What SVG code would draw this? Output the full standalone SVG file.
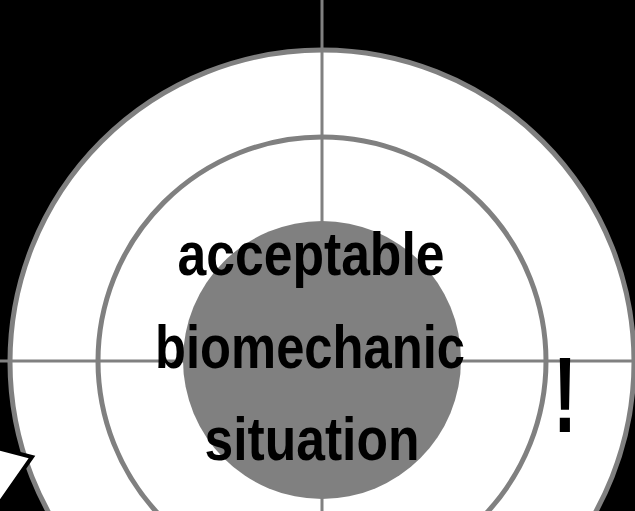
<svg xmlns="http://www.w3.org/2000/svg" width="635" height="511" viewBox="0 0 635 511">
<style>
.ring{fill:none;stroke:#808080;stroke-width:5}
.axis{stroke:#808080;stroke-width:3}
.lbl{font-family:"Liberation Sans",Arial,sans-serif;font-weight:bold;font-size:61px;fill:#000;text-anchor:middle}
</style>
<rect x="0" y="0" width="635" height="511" fill="#000"/>
<g id="outer-ring">
<circle cx="322" cy="362" r="312" fill="#fff" stroke="#808080" stroke-width="5"/>
</g>
<g id="inner-ring">
<circle class="ring" cx="322" cy="361" r="224"/>
</g>
<g id="connectors">
<line class="axis" x1="322" y1="0" x2="322" y2="511"/>
<line class="axis" x1="0" y1="361" x2="635" y2="361"/>
</g>
<g id="core">
<circle cx="322" cy="360" r="139" fill="#808080"/>
<text class="lbl" x="311" y="275" textLength="267" lengthAdjust="spacingAndGlyphs">acceptable</text>
<text class="lbl" x="310" y="368" textLength="310" lengthAdjust="spacingAndGlyphs">biomechanic</text>
<text class="lbl" x="312" y="460" textLength="215" lengthAdjust="spacingAndGlyphs">situation</text>
</g>
<g id="warning">
<text x="565" y="432" font-family="'Liberation Sans',Arial,sans-serif" font-weight="bold" font-size="107" text-anchor="middle" fill="#000" textLength="24" lengthAdjust="spacingAndGlyphs">!</text>
</g>
<g id="arrow">
<polygon points="-30,441 32,457 -10,517" fill="#fff" stroke="#000" stroke-width="4" stroke-linejoin="miter"/>
</g>
</svg>
